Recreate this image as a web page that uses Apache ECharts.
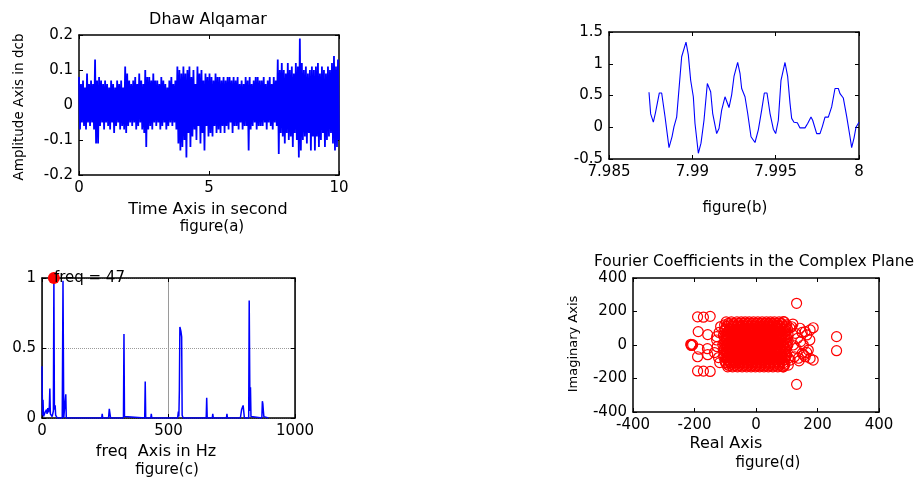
<!DOCTYPE html>
<html><head><meta charset="utf-8">
<script src="https://cdn.jsdelivr.net/npm/echarts@6/dist/echarts.min.js"></script>
<style>html,body{margin:0;padding:0;background:#fff}#c{width:919px;height:477px}</style>
</head><body><div id="c"></div>
<script>
// ---------- DATA ----------
// (a) Dhaw Alqamar time signal, 0..10 s
const signalA = [
0.08,-0.07,0.06,-0.05,0.07,-0.06,0.05,-0.07,0.09,-0.05,0.06,-0.06,0.07,-0.05,0.06,-0.07,0.13,-0.11,0.07,-0.11,0.08,-0.06,0.07,-0.05,0.06,-0.07,
0.07,-0.05,0.06,-0.06,0.05,-0.07,0.07,-0.05,0.06,-0.08,0.05,-0.06,0.07,-0.05,0.06,-0.07,0.07,-0.06,0.05,-0.07,0.11,-0.08,0.09,-0.06,0.07,-0.05,
0.06,-0.06,0.07,-0.05,0.08,-0.07,0.06,-0.06,0.09,-0.05,0.07,-0.07,0.06,-0.08,0.10,-0.12,0.08,-0.07,0.08,-0.06,0.07,-0.07,0.09,-0.05,0.07,-0.06,
0.07,-0.05,0.06,-0.07,0.08,-0.06,0.07,-0.05,0.06,-0.07,0.05,-0.06,0.07,-0.05,0.08,-0.06,0.06,-0.05,0.07,-0.07,0.11,-0.11,0.10,-0.13,0.09,-0.12,
0.11,-0.10,0.09,-0.15,0.10,-0.08,0.11,-0.12,0.08,-0.09,0.10,-0.07,0.06,-0.10,0.11,-0.06,0.09,-0.11,0.10,-0.08,0.07,-0.13,0.09,-0.06,0.08,-0.09,
0.09,-0.08,0.08,-0.09,0.07,-0.06,0.09,-0.08,0.08,-0.07,0.08,-0.08,0.07,-0.06,0.08,-0.08,0.07,-0.06,0.08,-0.07,0.08,-0.05,0.07,-0.08,0.08,-0.06,
0.07,-0.06,0.08,-0.07,0.06,-0.05,0.07,-0.07,0.06,-0.06,0.08,-0.06,0.07,-0.13,0.08,-0.07,0.06,-0.06,0.07,-0.05,0.08,-0.07,0.08,-0.06,0.07,-0.06,
0.07,-0.06,0.08,-0.05,0.06,-0.07,0.07,-0.05,0.08,-0.06,0.06,-0.07,0.08,-0.05,0.07,-0.06,0.13,-0.14,0.10,-0.08,0.12,-0.09,0.10,-0.11,0.09,-0.08,
0.12,-0.10,0.10,-0.09,0.11,-0.12,0.09,-0.08,0.12,-0.10,0.11,-0.15,0.19,-0.13,0.12,-0.10,0.10,-0.09,0.11,-0.11,0.09,-0.08,0.10,-0.13,0.11,-0.09,
0.10,-0.13,0.11,-0.09,0.12,-0.12,0.09,-0.10,0.11,-0.08,0.10,-0.12,0.09,-0.10,0.11,-0.09,0.10,-0.08,0.12,-0.11,0.14,-0.13,0.11,-0.12,0.13,-0.10
];
const signalDuration = 10;

// (b) zoom of the last samples
const waveTime = [7.9874,7.9875,7.98766,7.98778,7.98802,7.98816,7.98836,7.9886,7.98878,7.9889,7.98906,7.98936,7.98962,7.98976,7.9899,7.99006,7.99016,7.99036,7.99052,7.9907,7.9909,7.9911,7.99122,7.99146,7.9916,7.99176,7.99196,7.9922,7.99236,7.9925,7.99272,7.99286,7.99296,7.99316,7.99332,7.99352,7.99376,7.99396,7.99416,7.99432,7.99448,7.99466,7.99486,7.995,7.99516,7.99532,7.99556,7.99572,7.99586,7.99596,7.9961,7.9963,7.99646,7.99676,7.99692,7.99712,7.99722,7.99746,7.99766,7.9978,7.99796,7.99816,7.99836,7.99856,7.99876,7.99886,7.99906,7.99926,7.99946,7.99956,7.9997,7.99982,8.0];
const waveAmp = [0.55,0.21,0.08,0.22,0.54,0.54,0.17,-0.32,-0.15,0.01,0.16,1.11,1.34,1.14,0.74,0.48,0.06,-0.41,-0.25,0.11,0.69,0.56,0.22,-0.10,-0.02,0.27,0.48,0.31,0.51,0.80,1.02,0.85,0.61,0.48,0.22,-0.15,-0.24,-0.04,0.27,0.54,0.54,0.22,-0.03,-0.10,0.11,0.74,1.02,0.80,0.38,0.14,0.08,0.07,-0.01,-0.01,0.06,0.16,0.11,-0.10,-0.10,0.01,0.16,0.16,0.32,0.61,0.61,0.53,0.46,0.17,-0.15,-0.32,-0.17,0.00,0.08];

// (c) normalised spectrum [freq Hz, amplitude]
const spectrum = [[0,0.37],[2,0.02],[4,0.13],[6,0.01],[9,0.02],[12,0.04],[15,0.03],[18,0.06],[20,0.03],[23,0.07],[26,0.04],[29,0.08],[31,0.21],[33,0.03],[36,0.02],[40,0.01],[45,0.05],[47,1.0],[49,0.06],[52,0.09],[54,0.02],[58,0.02],[60,0],[80,0],[83,0.98],[86,0],[92,0],[94,0.17],[96,0],[198,0],[200,0.01],[202,0],[236,0],[238,0.03],[240,0],[263,0],[266,0.065],[268,0.06],[271,0],[322,0],[324,0.6],[326,0.01],[330,0],[406,0],[408,0.26],[410,0],[430,0],[432,0.03],[434,0],[536,0],[539,0.045],[541,0.01],[543,0.2],[545,0.65],[549,0.62],[552,0.58],[554,0.02],[556,0.02],[558,0],[616,0],[618,0.01],[620,0],[649,0],[651,0.145],[653,0],[673,0],[675,0.03],[677,0],[729,0],[731,0.03],[733,0],[784,0],[789,0.06],[795,0.09],[798,0.09],[800,0],[817,0],[819,0.84],[822,0.05],[824,0.22],[826,0.01],[869,0],[871,0.12],[873,0.1],[875,0.05],[877,0.01],[880,0.01],[895,0]];
const peakFreq = 47;
const peakAmp = 1;

// (d) Fourier coefficients: dense core rows [imag, [real...]] and scattered points [real, imag]
const clusterRows = [
 [138,[-97,-80,-62,-48,-35,-22,-8,6,20,34,47,60,75,92]],
 [129,[-90,-73,-57,-41,-27,-13,1,14,28,41,54,68,83]],
 [120,[-102,-88,-72,-58,-44,-30,-15,-2,12,26,40,55,70,86,100]],
 [111,[-96,-78,-63,-49,-37,-21,-7,9,23,37,51,66,81,97]],
 [102,[-95,-82,-66,-52,-38,-24,-10,4,18,32,46,62,78,95,110]],
 [93,[-100,-85,-68,-54,-41,-26,-12,0,13,29,43,57,72,89,103]],
 [84,[-104,-90,-75,-60,-46,-32,-18,-4,10,24,38,52,66,80,96]],
 [75,[-94,-80,-64,-51,-36,-22,-8,6,21,34,48,63,77,93]],
 [66,[-98,-84,-70,-55,-41,-27,-13,1,15,29,43,58,72,88,104]],
 [57,[-106,-91,-77,-63,-49,-35,-21,-7,7,20,35,48,64,79,94]],
 [48,[-102,-88,-73,-59,-45,-31,-17,-3,11,25,39,53,68,84,99]],
 [39,[-92,-78,-63,-48,-34,-21,-7,8,22,36,49,65,80,96]],
 [30,[-96,-82,-67,-53,-39,-25,-11,3,17,31,45,60,75,91]],
 [21,[-100,-86,-71,-57,-43,-29,-15,-2,13,27,41,55,70,85,101]],
 [12,[-104,-90,-76,-62,-48,-34,-20,-6,8,22,36,50,64,79,95]],
 [3,[-108,-94,-80,-66,-52,-38,-24,-10,4,18,32,46,60,74,90,104]],
 [-6,[-99,-85,-71,-57,-43,-29,-15,-1,13,27,41,55,70,86,101]],
 [-15,[-94,-80,-66,-52,-37,-23,-9,5,19,33,47,62,77,92]],
 [-24,[-103,-89,-74,-60,-46,-32,-18,-4,10,24,38,52,67,82,97]],
 [-33,[-106,-92,-78,-64,-50,-36,-22,-8,6,20,34,48,62,78,93]],
 [-42,[-97,-83,-68,-54,-40,-26,-12,2,16,30,44,58,73,89]],
 [-51,[-93,-79,-64,-50,-35,-21,-7,7,21,35,49,63,79,95]],
 [-60,[-102,-87,-73,-59,-45,-31,-17,-3,11,25,39,54,69,85,100]],
 [-69,[-105,-91,-77,-63,-49,-35,-21,-7,7,21,35,50,65,81,96]],
 [-78,[-98,-84,-70,-56,-42,-28,-14,0,14,28,42,57,72,88,105]],
 [-87,[-94,-80,-65,-51,-37,-23,-9,5,19,33,47,62,78,93]],
 [-96,[-101,-87,-72,-58,-44,-30,-16,-2,12,26,40,55,70,86]],
 [-105,[-99,-84,-70,-55,-41,-27,-13,1,15,29,43,58,74,90]],
 [-114,[-96,-81,-66,-52,-38,-24,-10,4,18,32,46,61,77,94]],
 [-122,[-88,-71,-55,-40,-26,-12,2,16,30,45,60,76,92]],
 [-130,[-92,-76,-60,-45,-30,-16,-2,12,26,40,55,71,88]]
];
const scatteredCoefs = [
 [-212,4],[-209,-3],[-206,2],[-211,-1],
 [-190,168],[-171,166],[-149,171],[-190,-155],[-171,-156],[-149,-158],
 [-188,80],[-157,62],[-185,-25],[-158,-22],[-190,-70],[-157,-58],
 [-128,30],[-126,-10],[-128,50],[-135,-45],[-115,110],[-118,-105],[-120,75],[-122,-75],
 [132,249],[132,-235],[262,50],[262,-34],[186,103],[186,-90],[165,60],[165,-44],[154,0],
 [176,90],[176,-80],[143,100],[138,-79],[116,109],[111,-90],[89,139],[89,-130],[121,0],
 [128,70],[150,75],[135,40],[145,20],[130,-20],[150,-50],[125,-70],[140,-95],[160,-70],
 [170,-30],[175,30],[120,125],[105,-120],[160,80],[155,-60]
];

// ---------- BUILD ----------
const FONT = 'DejaVu Sans';
const signalPts = signalA.map((v, i) => [i * signalDuration / (signalA.length - 1), v]);
const wavePts = waveTime.map((t, i) => [t, waveAmp[i]]);
const coefPts = [];
clusterRows.forEach(r => r[1].forEach(re => coefPts.push([re, r[0]])));
scatteredCoefs.forEach(p => coefPts.push(p));

const xAxes = [], yAxes = [];
function boxAxes(g, xr, yr, xfmt, yfmt, xSplit, ySplit) {
  const line = {show: true, onZero: false, lineStyle: {color: '#000', width: 1.5}};
  const tick = {show: true, inside: true, length: 4, lineStyle: {color: '#000', width: 1}};
  const lab = (f) => ({show: true, color: '#000', fontSize: 15, fontFamily: FONT, margin: 6,
      showMinLabel: true, showMaxLabel: true, formatter: f});
  xAxes.push({type: 'value', gridIndex: g, position: 'bottom', min: xr[0], max: xr[1], interval: xr[2],
    axisLine: line, axisTick: tick, axisLabel: lab(xfmt), splitLine: xSplit || {show: false}});
  xAxes.push({type: 'value', gridIndex: g, position: 'top', min: xr[0], max: xr[1], interval: xr[2],
    axisLine: line, axisTick: tick, axisLabel: {show: false}, splitLine: {show: false}});
  yAxes.push({type: 'value', gridIndex: g, position: 'left', min: yr[0], max: yr[1], interval: yr[2],
    axisLine: line, axisTick: tick, axisLabel: lab(yfmt), splitLine: ySplit || {show: false}});
  yAxes.push({type: 'value', gridIndex: g, position: 'right', min: yr[0], max: yr[1], interval: yr[2],
    axisLine: line, axisTick: tick, axisLabel: {show: false}, splitLine: {show: false}});
}
const num = d => (v => String(+v.toFixed(d)));
boxAxes(0, [0, 10, 5], [-0.2, 0.2, 0.1], num(0), num(1));
boxAxes(1, [7.985, 8, 0.005], [-0.5, 1.5, 0.5], num(3), num(1));
boxAxes(2, [0, 1000, 500], [0, 1, 0.5], num(0), num(1),
  {show: true, lineStyle: {color: '#9a9a9a', width: 1, type: 'solid'}},
  {show: true, lineStyle: {color: '#9a9a9a', width: 1, type: [1, 1]}});
boxAxes(3, [-400, 400, 200], [-400, 400, 200], num(0), num(0));

const txt = (s, x, y, size, rot) => ({type: 'text', x: x, y: y, rotation: rot || 0,
  style: {text: s, fill: '#000', fontSize: size, fontFamily: FONT, textAlign: 'center', textVerticalAlign: 'middle'}});

const option = {
  backgroundColor: '#fff',
  animation: false,
  grid: [
    {left: 79, top: 35, width: 260, height: 140, outerBoundsMode: 'none'},
    {left: 609, top: 32, width: 250, height: 127, outerBoundsMode: 'none'},
    {left: 42, top: 278, width: 253, height: 140, outerBoundsMode: 'none'},
    {left: 633, top: 278, width: 246, height: 134, outerBoundsMode: 'none'}
  ],
  xAxis: xAxes,
  yAxis: yAxes,
  series: [
    {type: 'line', xAxisIndex: 0, yAxisIndex: 0, data: signalPts, showSymbol: false,
     lineStyle: {color: '#0000ff', width: 1.8}, itemStyle: {color: '#0000ff'}},
    {type: 'line', xAxisIndex: 2, yAxisIndex: 2, data: wavePts, showSymbol: false,
     lineStyle: {color: '#0000ff', width: 1.1}, itemStyle: {color: '#0000ff'}},
    {type: 'line', xAxisIndex: 4, yAxisIndex: 4, data: spectrum, showSymbol: false,
     lineStyle: {color: '#0000ff', width: 1.5}, itemStyle: {color: '#0000ff'}},
    {type: 'scatter', xAxisIndex: 4, yAxisIndex: 4, data: [[peakFreq, peakAmp]], symbol: 'circle', symbolSize: 12,
     clip: false, z: 5, itemStyle: {color: '#ff0000', opacity: 1},
     label: {show: true, position: [6, 6], align: 'left', verticalAlign: 'middle', color: '#000',
       fontSize: 15, fontFamily: FONT, formatter: () => 'freq = ' + peakFreq}},
    {type: 'scatter', xAxisIndex: 6, yAxisIndex: 6, data: coefPts, symbol: 'circle', symbolSize: 10,
     itemStyle: {color: 'rgba(0,0,0,0)', borderColor: '#ff0000', borderWidth: 1.2, opacity: 1}, large: false}
  ],
  graphic: [
    txt('Dhaw Alqamar', 208, 20, 16),
    txt('Amplitude Axis in dcb', 19, 107, 13.5, Math.PI / 2),
    txt('Time Axis in second', 208, 210, 16),
    txt('figure(a)', 212, 227, 15),
    txt('figure(b)', 735, 208, 15),
    txt('freq  Axis in Hz', 156, 452, 16),
    txt('figure(c)', 167, 470, 15),
    txt('Fourier Coefficients in the Complex Plane', 754, 262, 15.5),
    txt('Imaginary Axis', 574, 344, 13, Math.PI / 2),
    txt('Real Axis', 726, 444, 16),
    txt('figure(d)', 768, 463, 15)
  ]
};
const chart = echarts.init(document.getElementById('c'), null, {renderer: 'canvas', width: 919, height: 477});
chart.setOption(option);
</script>
</body></html>
